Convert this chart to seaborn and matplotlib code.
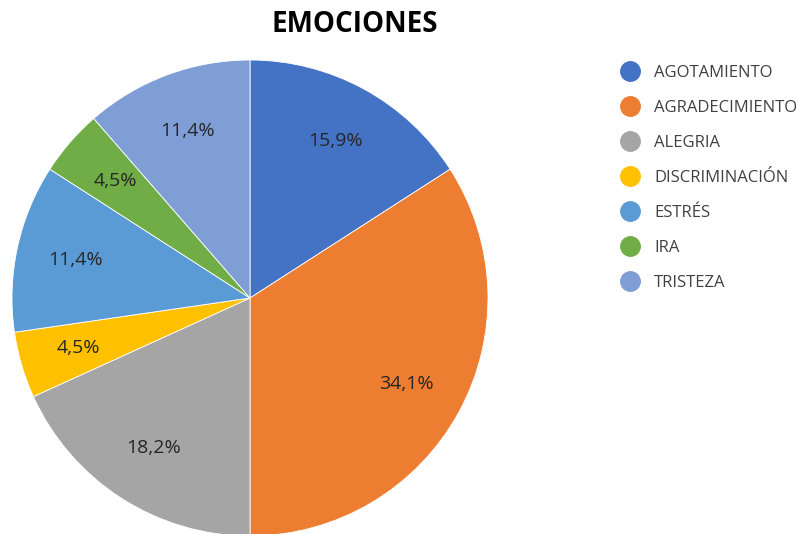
import matplotlib
matplotlib.use("Agg")
from matplotlib import pyplot as plt
from matplotlib.lines import Line2D
import seaborn as sns

categories = ["AGOTAMIENTO", "AGRADECIMIENTO", "ALEGRIA", "DISCRIMINACIÓN",
              "ESTRÉS", "IRA", "TRISTEZA"]
percentages = [15.9, 34.1, 18.2, 4.5, 11.4, 4.5, 11.4]
colors = ["#4472C4", "#ED7D31", "#A5A5A5", "#FFC000", "#5B9BD5", "#70AD47", "#7F9ED6"]

sns.set_theme(style="white")
plt.rcParams["font.family"] = ["Open Sans", "DejaVu Sans"]

W, H = 796, 534
fig = plt.figure(figsize=(W / 100, H / 100), dpi=100)

# pie centre (250, 298) px, radius 238 px
cx, cy, r = 250, 298, 238
ax = fig.add_axes([(cx - r) / W, (H - cy - r) / H, 2 * r / W, 2 * r / H])

wedges, texts, autotexts = ax.pie(
    percentages, colors=colors, startangle=90, counterclock=False,
    autopct=lambda p: f"{p:.1f}%".replace(".", ","), pctdistance=0.75,
    wedgeprops=dict(edgecolor="white", linewidth=0.6),
    textprops=dict(fontsize=14, color="#262626"))
ax.set_xlim(-1, 1)
ax.set_ylim(-1, 1)
ax.set_aspect("equal")
ax.axis("off")

fig.text(355 / W, 1 - 25 / H, "EMOCIONES", ha="center", va="center",
         fontsize=20, fontweight="bold", color="#000000")

handles = [Line2D([], [], marker="o", linestyle="none", markersize=14,
                  markerfacecolor=c, markeredgecolor=c) for c in colors]
leg = fig.legend(handles, categories, loc="upper left",
                 bbox_to_anchor=(620 / W, 1 - 65 / H), frameon=False,
                 fontsize=12, labelspacing=1.14, handletextpad=0.84,
                 handlelength=1.2, borderaxespad=0, borderpad=0)
for t in leg.get_texts():
    t.set_color("#404040")

fig.savefig("out.png", dpi=100)
